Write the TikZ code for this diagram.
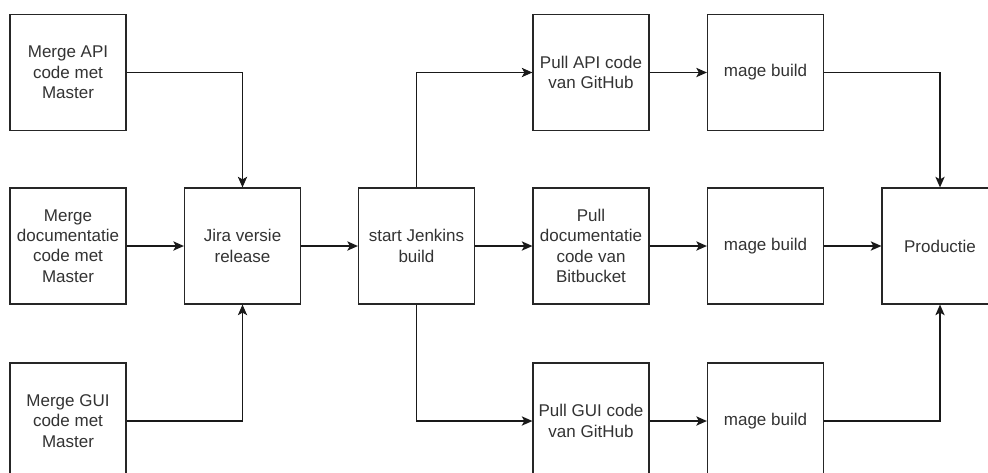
\documentclass[tikz,border=0pt]{standalone}
\usepackage{fontspec}
\setmainfont{Liberation Sans}
\usetikzlibrary{arrows.meta}
\begin{document}
\begin{tikzpicture}[x=0.75pt,y=-0.75pt,
  box/.style={draw=black!85, line width=0.9pt, fill=white, minimum width=87pt, minimum height=87pt,
    inner sep=0pt, align=center, font=\fontsize{12.75}{15.3}\selectfont, text=black!80},
  conn/.style={draw=black!90, line width=0.9pt, -{Stealth[length=8pt,width=7pt,inset=2pt]}}]
\useasboundingbox (0,0) rectangle (988,472);
\clip (0,0) rectangle (988,472);
\node[box] (mapi) at (68,72.5) {Merge API\\code met\\Master};
\node[box] (mdoc) at (68,246) {Merge\\documentatie\\code met\\Master};
\node[box] (mgui) at (68,421) {Merge GUI\\code met\\Master};
\node[box] (jira) at (242.5,246) {Jira versie\\release};
\node[box] (jenk) at (416.5,246) {start Jenkins\\build};
\node[box] (papi) at (591,72.5) {Pull API code\\van GitHub};
\node[box] (pdoc) at (591,246) {Pull\\documentatie\\code van\\Bitbucket};
\node[box] (pgui) at (591,421) {Pull GUI code\\van GitHub};
\node[box] (mb1) at (765.5,72.5) {mage build};
\node[box] (mb2) at (765.5,246) {mage build};
\node[box] (mb3) at (765.5,421) {mage build};
\node[box] (prod) at (940,246) {Productie};
\draw[conn] (mapi.east) -| (jira.north);
\draw[conn] (mdoc) -- (jira);
\draw[conn] (mgui.east) -| (jira.south);
\draw[conn] (jira) -- (jenk);
\draw[conn] (jenk.north) |- (papi.west);
\draw[conn] (jenk) -- (pdoc);
\draw[conn] (jenk.south) |- (pgui.west);
\draw[conn] (papi) -- (mb1);
\draw[conn] (pdoc) -- (mb2);
\draw[conn] (pgui) -- (mb3);
\draw[conn] (mb1.east) -| (prod.north);
\draw[conn] (mb2) -- (prod);
\draw[conn] (mb3.east) -| (prod.south);
\end{tikzpicture}
\end{document}
